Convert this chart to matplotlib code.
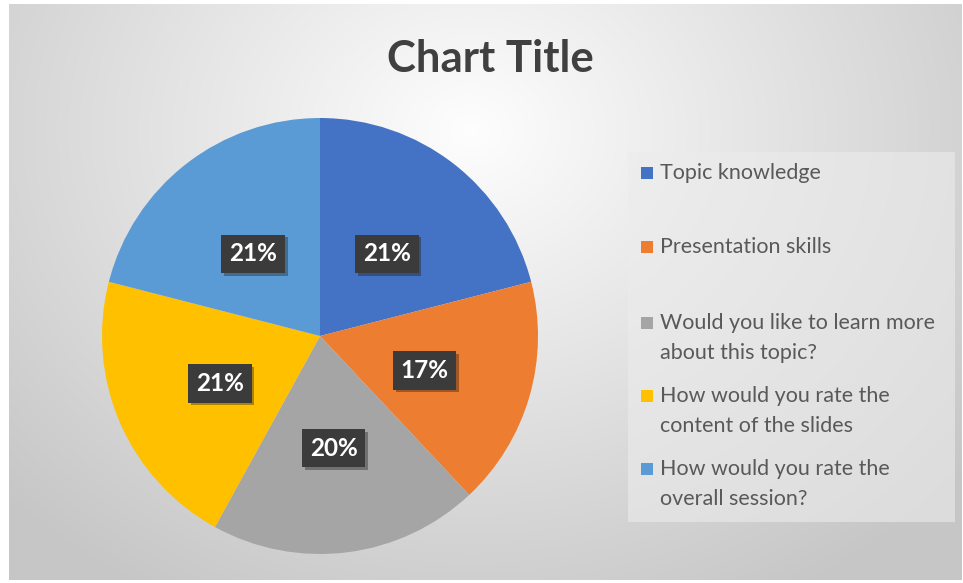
import numpy as np
from matplotlib import pyplot as plt
from matplotlib import patheffects as pe
from matplotlib import transforms
from matplotlib.patches import Rectangle

# data
categories = ["Topic knowledge",
              "Presentation skills",
              "Would you like to learn more\nabout this topic?",
              "How would you rate the\ncontent of the slides",
              "How would you rate the\noverall session?"]
shares = [21, 17, 20, 21, 21]
colors = ["#4472C4", "#ED7D31", "#A5A5A5", "#FFC000", "#5B9BD5"]

W, H = 963, 583
fig = plt.figure(figsize=(W / 100, H / 100), dpi=100)
fig.patch.set_facecolor("white")

def px(x0, y0, x1, y1):
    # pixel box (top-left origin) -> figure rect
    return [x0 / W, (H - y1) / H, (x1 - x0) / W, (y1 - y0) / H]

# radial gradient background
bg = fig.add_axes(px(9, 4, 961, 580))
bg.axis("off")
xx, yy = np.meshgrid(np.linspace(9, 961, 400), np.linspace(4, 580, 250))
r = np.sqrt(((xx - 470) / 620) ** 2 + ((yy - 130) / 520) ** 2)
g = np.clip(0.995 - 0.21 * r, 0.78, 1)
bg.imshow(np.dstack([g, g, g]), aspect="auto", extent=[0, 1, 0, 1])

fig.text(490 / W, 1 - 59 / H, "Chart Title", ha="center", va="center",
         fontsize=31.5, fontweight="bold", family="Lato", color="#404040")

# pie
ax = fig.add_axes(px(320 - 218, 336 - 218, 320 + 218, 336 + 218))
wedges, texts, autotexts = ax.pie(shares, colors=colors, startangle=90,
                                  counterclock=False, autopct="%1.0f%%",
                                  pctdistance=0.5, radius=1,
                                  textprops=dict(color="white", fontsize=17.5,
                                                 fontweight="bold", family="Lato"))
ax.set_xlim(-1, 1)
ax.set_ylim(-1, 1)
ax.set_aspect("equal")
shift = transforms.offset_copy(ax.transData, fig=fig, y=-4, units="dots")
for t in autotexts:
    t.set_transform(shift)
    t.set_bbox(dict(boxstyle="square,pad=0.32", facecolor="#3b3b3b", edgecolor="none"))
    t.get_bbox_patch().set_path_effects([pe.SimplePatchShadow(offset=(2, -2), alpha=0.35),
                                         pe.Normal()])

# legend
lg = fig.add_axes([0, 0, 1, 1])
lg.set_xlim(0, W)
lg.set_ylim(H, 0)
lg.axis("off")
lg.add_patch(Rectangle((628, 152), 327, 370, facecolor="#ececec", alpha=0.6, edgecolor="none"))
row_y = [173, 247, 323, 396, 469]
for lab, c, y in zip(categories, colors, row_y):
    lg.add_patch(Rectangle((641, y - 6), 12, 12, facecolor=c, edgecolor="none"))
    lg.text(660, y - 10, lab, ha="left", va="top", fontsize=15.5, family="Lato",
            color="#595959", linespacing=1.6)

fig.savefig("out.png", dpi=100)
